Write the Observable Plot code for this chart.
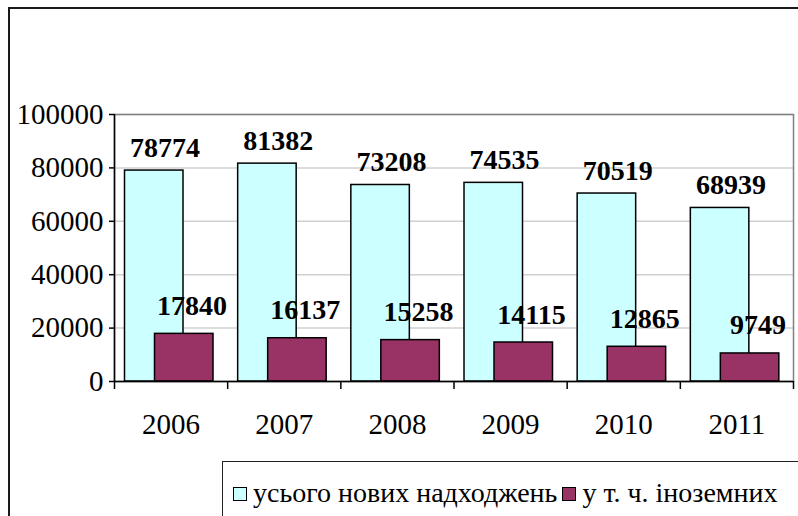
<!DOCTYPE html>
<html><head><meta charset="utf-8">
<script src="https://cdn.jsdelivr.net/npm/d3@7"></script>
<script src="https://cdn.jsdelivr.net/npm/@observablehq/plot@0.6"></script>
<style>
html,body{margin:0;padding:0;background:#fff;}
#wrap{position:relative;width:798px;height:516px;overflow:hidden;background:#fff;}
#border{position:absolute;left:8px;top:7px;width:900px;height:700px;border-left:2px solid #1a1a1a;border-top:2px solid #1a1a1a;}
#chart{position:absolute;left:0;top:0;}
#legend{position:absolute;left:222px;top:461px;width:700px;height:100px;border:1.5px solid #222;background:#fff;}
#legend .row{position:absolute;left:10px;top:17px;display:flex;align-items:center;font-size:28px;line-height:1;white-space:nowrap;color:#000;}
#legend .sw{width:12px;height:12px;border:1.5px solid #000;margin-right:6px;margin-top:1px;}
#legend .item{display:flex;align-items:center;margin-right:5px;}
</style>
</head><body>
<div id="wrap"><div id="border"></div><div id="chart"></div><div id="legend"></div></div>
<script>
const years = ["2006", "2007", "2008", "2009", "2010", "2011"];
const totalLabels = [78774, 81382, 73208, 74535, 70519, 68939];
const foreignLabels = [17840, 16137, 15258, 14115, 12865, 9749];
const totalBars = [79000, 81600, 73600, 74400, 70400, 65000];
const foreignBars = [17840, 16200, 15500, 14600, 13000, 10500];
const yTicks = [0, 20000, 40000, 60000, 80000, 100000];
const seriesNames = ["усього нових надходжень", "у т. ч. іноземних"];
const seriesColors = ["#CCFFFF", "#993366"];

const SERIF = `"Liberation Serif", "Times New Roman", serif`;
document.getElementById("wrap").style.fontFamily = SERIF;

const W = 798, H = 462, mL = 114, mR = 5, mT = 114, mB = 81;
const bw = (W - mL - mR) / years.length;
const data = years.map((y, i) => ({year: y, total: totalBars[i], foreign: foreignBars[i], tl: totalLabels[i], fl: foreignLabels[i]}));

const chart = Plot.plot({
  width: W, height: H, marginLeft: mL, marginRight: mR, marginTop: mT, marginBottom: mB,
  style: {fontFamily: SERIF, background: "transparent", color: "black", overflow: "visible"},
  x: {domain: years, padding: 0, round: false, label: null},
  y: {domain: [0, 100000], label: null},
  marks: [
    Plot.gridY(yTicks, {stroke: "#d0d0d0", strokeOpacity: 1, strokeWidth: 1.5}),
    Plot.frame({stroke: "#808080", strokeWidth: 1.5}),
    Plot.barY(data, {x: "year", y: "total", fill: seriesColors[0], stroke: "black", strokeWidth: 1.5, insetLeft: 10.5, insetRight: bw - 69}),
    Plot.barY(data, {x: "year", y: "foreign", fill: seriesColors[1], stroke: "black", strokeWidth: 1.5, insetLeft: 40.5, insetRight: bw - 99}),
    Plot.ruleY([0], {stroke: "black", strokeWidth: 1.5}),
    Plot.ruleX([years[0]], {dx: -bw / 2, y1: 100000, y2: 0, insetBottom: -8, stroke: "black", strokeWidth: 1.5}),
    Plot.ruleX(years.slice(1), {dx: -bw / 2, y1: 0, y2: 0, insetBottom: -8, stroke: "black", strokeWidth: 1.5}),
    Plot.ruleX([years[years.length - 1]], {dx: bw / 2, y1: 0, y2: 0, insetBottom: -8, stroke: "black", strokeWidth: 1.5}),
    Plot.axisY(yTicks, {tickSize: 5, tickPadding: 6, fontSize: 29, tickFormat: d => String(d), strokeWidth: 1.5}),
    Plot.axisX({tickSize: 0, tickPadding: 32, fontSize: 29}),
    Plot.text(data, {x: "year", y: "total", text: d => String(d.tl), dx: -6, dy: -13.5, lineAnchor: "bottom", fontWeight: "bold", fontSize: 28}),
    Plot.text(data, {x: "year", y: "foreign", text: d => String(d.fl), dx: 21, dy: -19, lineAnchor: "bottom", fontWeight: "bold", fontSize: 28})
  ]
});
chart.querySelectorAll("text").forEach(t => t.style.fontFamily = SERIF);
document.getElementById("chart").appendChild(chart);

const row = document.createElement("div");
row.className = "row";
row.style.fontFamily = SERIF;
seriesNames.forEach((n, i) => {
  const it = document.createElement("div");
  it.className = "item";
  const sw = document.createElement("div");
  sw.className = "sw";
  sw.style.background = seriesColors[i];
  const t = document.createElement("span");
  t.textContent = n;
  it.appendChild(sw); it.appendChild(t);
  row.appendChild(it);
});
document.getElementById("legend").appendChild(row);
</script>
</body></html>
